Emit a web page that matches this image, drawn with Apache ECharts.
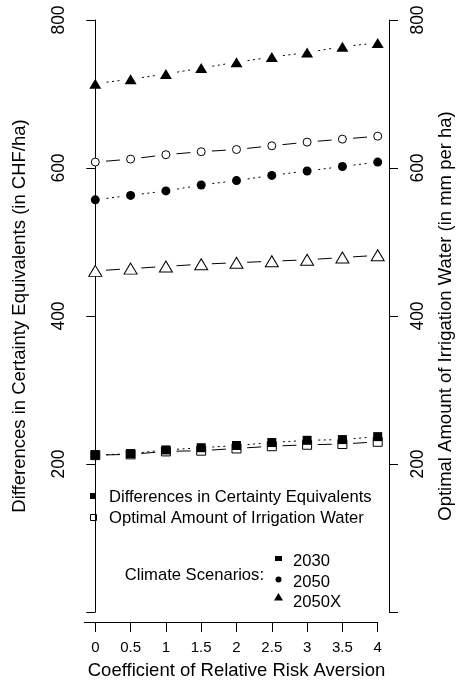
<!DOCTYPE html>
<html>
<head>
<meta charset="utf-8">
<script src="https://cdn.jsdelivr.net/npm/echarts@6/dist/echarts.min.js"></script>
<style>
html,body{margin:0;padding:0;background:#fff;}
#c{width:465px;height:680px;}
</style>
</head>
<body>
<div id="c"></div>
<script>
// ---- data ----
const riskAversion = [0, 0.5, 1, 1.5, 2, 2.5, 3, 3.5, 4];
const xTickValues = [0, 0.5, 1, 1.5, 2, 2.5, 3, 3.5, 4];
const yTickValues = [0, 200, 400, 600, 800];
// Differences in Certainty Equivalents (CHF/ha), left axis
const ce2030  = [212, 214, 219, 222, 225, 229, 232, 233, 237];
const ce2050  = [557, 563, 569, 577, 583, 590, 596, 602, 608];
const ce2050X = [714, 720, 727, 735, 743, 750, 756, 764, 769];
// Optimal Amount of Irrigation Water (mm per ha), right axis
const water2030  = [212, 213, 217, 218, 221, 224, 226, 227, 230];
const water2050  = [608, 612, 618, 622, 625, 630, 635, 639, 643];
const water2050X = [461, 464, 467, 470, 472, 474, 476, 479, 482];

const FONT = '"Liberation Sans", Arial, Helvetica, sans-serif';
const pairs = v => riskAversion.map((x, i) => [x, v[i]]);

function mkSeries(name, vals, yIdx, symbol, size, filled, dashKind) {
  return {
    name: name, type: 'line', yAxisIndex: yIdx, data: pairs(vals),
    symbol: symbol, symbolSize: size, showSymbol: true,
    itemStyle: filled ? {color: '#000', borderWidth: 0}
                      : {color: '#fff', borderColor: '#000', borderWidth: 1},
    lineStyle: {color: '#000', width: 1, type: dashKind === 'dotted' ? 'dotted' : 'dashed'},
    emphasis: {disabled: true}, animation: false, silent: true,
    dashKind: dashKind
  };
}

const seriesDefs = [
  mkSeries('w2030', water2030, 1, 'rect', 9, false, 'dashed'),
  mkSeries('ce2030', ce2030, 0, 'rect', 9, true, 'dotted'),
  mkSeries('w2050', water2050, 1, 'circle', 8, false, 'dashed'),
  mkSeries('ce2050', ce2050, 0, 'circle', 9, true, 'dotted'),
  mkSeries('w2050X', water2050X, 1, 'triangle', [13, 11], false, 'dashed'),
  mkSeries('ce2050X', ce2050X, 0, 'triangle', [12, 10], true, 'dotted')
];

const yAxisCommon = {
  type: 'value', min: 0, max: 800, interval: 200,
  axisLine: {show: true, lineStyle: {color: '#000', width: 1}},
  axisTick: {show: true, length: 9, lineStyle: {color: '#000', width: 1}},
  splitLine: {show: false},
  nameLocation: 'middle',
  nameTextStyle: {fontFamily: FONT, fontSize: 18.5, color: '#000'}
};

const option = {
  animation: false,
  backgroundColor: '#fff',
  grid: {left: 84, right: 76, top: 20, bottom: 68, containLabel: false, outerBoundsMode: 'none'},
  xAxis: {
    type: 'value', min: -0.16, max: 4.16, offset: 10,
    axisLine: {show: false, onZero: false},
    axisTick: {show: true, length: 10, customValues: xTickValues, lineStyle: {color: '#000', width: 1}},
    axisLabel: {customValues: xTickValues, margin: 18, fontFamily: FONT, fontSize: 15, color: '#000'},
    splitLine: {show: false},
    name: 'Coefficient of Relative Risk Aversion', nameLocation: 'middle', nameGap: 39,
    nameTextStyle: {fontFamily: FONT, fontSize: 18.5, color: '#000'}
  },
  yAxis: [
    Object.assign({}, yAxisCommon, {
      position: 'left',
      name: 'Differences in Certainty Equivalents (in CHF/ha)', nameGap: 55,
      axisLabel: {rotate: 90, margin: 16, fontFamily: FONT, fontSize: 17.5, color: '#000',
                  formatter: v => (v === 0 ? '' : String(v))}
    }),
    Object.assign({}, yAxisCommon, {
      position: 'right',
      name: 'Optimal Amount of Irrigation Water (in mm per ha)', nameGap: 47,
      axisLabel: {rotate: 90, margin: 20, fontFamily: FONT, fontSize: 17.5, color: '#000',
                  formatter: v => (v === 0 ? '' : String(v))}
    })
  ],
  series: seriesDefs.map(s => { const c = Object.assign({}, s); delete c.dashKind; return c; })
};

const chart = echarts.init(document.getElementById('c'), null, {renderer: 'canvas'});
chart.setOption(option);

// dash patterns: one dash / a few dots centred between consecutive markers
const newSeries = seriesDefs.map((s, si) => {
  const pts = s.data.map(d => chart.convertToPixel({xAxisIndex: 0, yAxisIndex: s.yAxisIndex}, d));
  let tot = 0;
  for (let i = 1; i < pts.length; i++) {
    tot += Math.hypot(pts[i][0] - pts[i-1][0], pts[i][1] - pts[i-1][1]);
  }
  const L = tot / (pts.length - 1);
  let type, off;
  if (s.dashKind === 'dotted') {
    const span = 13;
    type = [2, 3.5, 2, 3.5, 2, L - span];
    off = (L + span) / 2;
  } else {
    const span = 14;
    type = [span, L - span];
    off = (L + span) / 2;
  }
  return {lineStyle: {color: '#000', width: 1, type: type, dashOffset: off}};
});

// x axis line from the plot's left edge to the last tick
const xl = chart.convertToPixel({xAxisIndex: 0}, -0.16);
const xr = chart.convertToPixel({xAxisIndex: 0}, 4);
const y0 = Math.round(chart.convertToPixel({yAxisIndex: 0}, 0)) + 10.5;

const legendFont = '16.6px ' + FONT;
const g = [];
g.push({type: 'line', shape: {x1: xl, y1: y0, x2: xr + 0.5, y2: y0}, style: {stroke: '#000', lineWidth: 1}, z: 10});
// legend 1
g.push({type: 'rect', shape: {x: 90, y: 493, width: 6, height: 6}, style: {fill: '#000'}});
g.push({type: 'text', x: 109, y: 497, style: {text: 'Differences in Certainty Equivalents', font: legendFont, fill: '#000', verticalAlign: 'middle', align: 'left'}});
g.push({type: 'rect', shape: {x: 90.5, y: 514.5, width: 6, height: 6}, style: {fill: '#fff', stroke: '#000', lineWidth: 1}});
g.push({type: 'text', x: 109, y: 518, style: {text: 'Optimal Amount of Irrigation Water', font: legendFont, fill: '#000', verticalAlign: 'middle', align: 'left'}});
// legend 2
g.push({type: 'text', x: 264, y: 575, style: {text: 'Climate Scenarios:', font: legendFont, fill: '#000', verticalAlign: 'middle', align: 'right'}});
g.push({type: 'rect', shape: {x: 275, y: 556, width: 7, height: 5}, style: {fill: '#000'}});
g.push({type: 'text', x: 293, y: 561, style: {text: '2030', font: legendFont, fill: '#000', verticalAlign: 'middle', align: 'left'}});
g.push({type: 'circle', shape: {cx: 278.5, cy: 579.5, r: 3}, style: {fill: '#000'}});
g.push({type: 'text', x: 293, y: 582, style: {text: '2050', font: legendFont, fill: '#000', verticalAlign: 'middle', align: 'left'}});
g.push({type: 'polygon', shape: {points: [[278.5, 593], [283, 600.5], [274, 600.5]]}, style: {fill: '#000'}});
g.push({type: 'text', x: 293, y: 602, style: {text: '2050X', font: legendFont, fill: '#000', verticalAlign: 'middle', align: 'left'}});

chart.setOption({series: newSeries, graphic: g.map(e => Object.assign({silent: true}, e))});
</script>
</body>
</html>
